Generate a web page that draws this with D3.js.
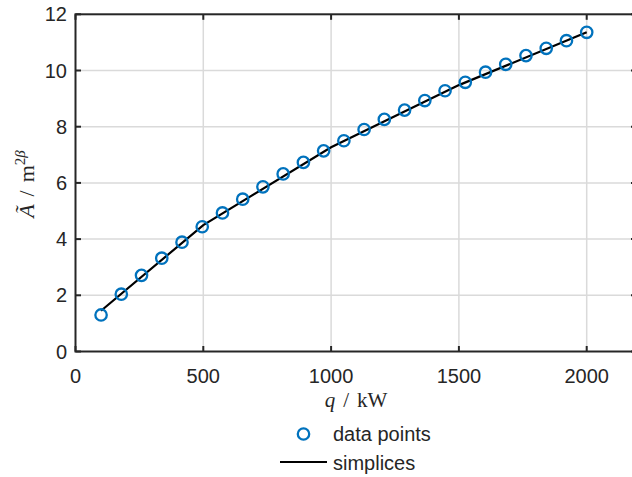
<!DOCTYPE html>
<html>
<head>
<meta charset="utf-8">
<script src="https://d3js.org/d3.v7.min.js"></script>
<style>
  body { margin: 0; background: #fff; }
  svg text { font-family: "Liberation Sans", Arial, sans-serif; fill: #262626; }
  .math { font-family: "Liberation Serif", "DejaVu Serif", serif; }
</style>
</head>
<body>
<div id="chart"></div>
<script>
// data points
var qPoints = [100, 179.2, 258.3, 337.5, 416.7, 495.8, 575, 654.2, 733.3, 812.5, 891.7, 970.8,
  1050, 1129.2, 1208.3, 1287.5, 1366.7, 1445.8, 1525, 1604.2, 1683.3, 1762.5, 1841.7, 1920.8, 2000];
var aPoints = [1.30, 2.04, 2.71, 3.32, 3.89, 4.44, 4.93, 5.42, 5.86, 6.32, 6.73, 7.14,
  7.50, 7.90, 8.26, 8.59, 8.93, 9.28, 9.58, 9.94, 10.22, 10.53, 10.79, 11.06, 11.36];
// simplices (piecewise linear)
var qSimplex = [100, 500, 1000, 1500, 2000];
var aSimplex = [1.45, 4.50, 7.27, 9.48, 11.36];
// ticks
var xTicks = [0, 500, 1000, 1500, 2000];
var yTicks = [0, 2, 4, 6, 8, 10, 12];

drawChart("#chart");

function drawChart(elm) {
  var W = 632, H = 477;
  var left = 75.5, right = 636.5, top = 14.3, bottom = 351.5;

  var svg = d3.select(elm).append("svg")
    .attr("width", W)
    .attr("height", H);

  // 0..2000 maps to 75.5..586.7, box continues past the window edge
  var x = d3.scaleLinear().domain([0, 2000]).range([left, 586.7]);
  var y = d3.scaleLinear().domain([0, 12]).range([bottom, top]);

  // grid
  svg.append("g")
    .selectAll("line.vg")
    .data(xTicks.slice(1))
    .join("line")
    .attr("x1", d => x(d)).attr("x2", d => x(d))
    .attr("y1", top).attr("y2", bottom)
    .attr("stroke", "#dadada")
    .attr("stroke-width", 1.5);
  svg.append("g")
    .selectAll("line.hg")
    .data(yTicks.slice(1, -1))
    .join("line")
    .attr("x1", left).attr("x2", right)
    .attr("y1", d => y(d)).attr("y2", d => y(d))
    .attr("stroke", "#dadada")
    .attr("stroke-width", 1.5);

  // axes box
  var axisColor = "#262626";
  svg.append("rect")
    .attr("x", left).attr("y", top)
    .attr("width", right - left).attr("height", bottom - top)
    .attr("fill", "none")
    .attr("stroke", axisColor)
    .attr("stroke-width", 2);

  // ticks (inward, on all four sides)
  var tk = 5.5;
  var tg = svg.append("g").attr("stroke", axisColor).attr("stroke-width", 2);
  xTicks.forEach(function (d) {
    tg.append("line").attr("x1", x(d)).attr("x2", x(d)).attr("y1", bottom).attr("y2", bottom - tk);
    tg.append("line").attr("x1", x(d)).attr("x2", x(d)).attr("y1", top).attr("y2", top + tk);
  });
  yTicks.forEach(function (d) {
    tg.append("line").attr("x1", left).attr("x2", left + tk).attr("y1", y(d)).attr("y2", y(d));
    tg.append("line").attr("x1", right).attr("x2", right - tk).attr("y1", y(d)).attr("y2", y(d));
  });

  // tick labels
  svg.append("g")
    .selectAll("text")
    .data(xTicks)
    .join("text")
    .attr("x", d => x(d))
    .attr("y", bottom + 31)
    .attr("text-anchor", "middle")
    .style("font-size", "20px")
    .text(d => d);
  svg.append("g")
    .selectAll("text")
    .data(yTicks)
    .join("text")
    .attr("x", left - 8.5)
    .attr("y", d => y(d) + 7)
    .attr("text-anchor", "end")
    .style("font-size", "20px")
    .text(d => d);

  // axis labels (LaTeX-ish)
  var xl = svg.append("text")
    .attr("class", "math")
    .attr("x", 356)
    .attr("y", 407)
    .attr("text-anchor", "middle")
    .style("font-size", "21px");
  xl.append("tspan").style("font-style", "italic").text("q");
  xl.append("tspan").attr("dx", 8).text("/");
  xl.append("tspan").attr("dx", 8).text("kW");

  var yl = svg.append("text")
    .attr("class", "math")
    .attr("transform", "translate(34,184) rotate(-90)")
    .attr("text-anchor", "middle")
    .style("font-size", "22px");
  yl.append("tspan").style("font-style", "italic").text("\u00C3");
  yl.append("tspan").attr("dx", 8).text("/");
  yl.append("tspan").attr("dx", 8).text("m");
  yl.append("tspan").attr("dy", -9).style("font-size", "15px").text("2");
  yl.append("tspan").style("font-size", "15px").style("font-style", "italic").text("\u03B2");

  // simplices line
  var simplex = qSimplex.map((q, i) => [q, aSimplex[i]]);
  svg.append("path")
    .datum(simplex)
    .attr("fill", "none")
    .attr("stroke", "#000")
    .attr("stroke-width", 2.2)
    .attr("d", d3.line().x(d => x(d[0])).y(d => y(d[1])));

  // data point markers
  var pts = qPoints.map((q, i) => [q, aPoints[i]]);
  svg.append("g")
    .selectAll("circle")
    .data(pts)
    .join("circle")
    .attr("cx", d => x(d[0]))
    .attr("cy", d => y(d[1]))
    .attr("r", 5.7)
    .attr("fill", "none")
    .attr("stroke", "#0072BD")
    .attr("stroke-width", 2.3);

  // legend
  var lg = svg.append("g");
  lg.append("circle")
    .attr("cx", 303.5).attr("cy", 434)
    .attr("r", 5.7)
    .attr("fill", "none")
    .attr("stroke", "#0072BD")
    .attr("stroke-width", 2.3);
  lg.append("text")
    .attr("x", 333).attr("y", 441)
    .style("font-size", "20px")
    .text("data points");
  lg.append("line")
    .attr("x1", 280).attr("x2", 327)
    .attr("y1", 462).attr("y2", 462)
    .attr("stroke", "#000")
    .attr("stroke-width", 2.2);
  lg.append("text")
    .attr("x", 333).attr("y", 470)
    .style("font-size", "20px")
    .text("simplices");
}
</script>
</body>
</html>
